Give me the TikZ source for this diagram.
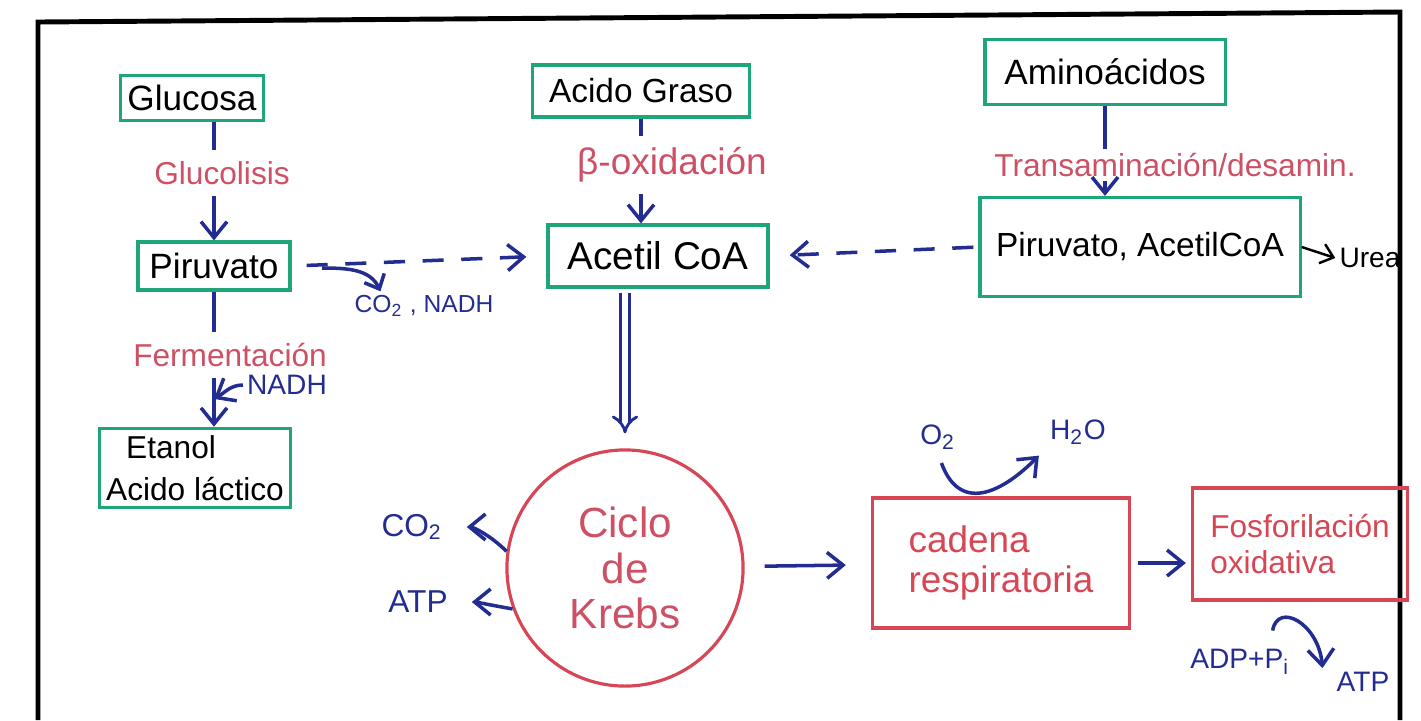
\documentclass[tikz,border=0pt]{standalone}
\usepackage{fontspec}
\setmainfont{Liberation Sans}
\usetikzlibrary{arrows.meta}
\definecolor{penGreen}{RGB}{30,165,120}
\definecolor{penRed}{RGB}{215,70,85}
\definecolor{penPink}{RGB}{205,80,100}
\definecolor{penBlue}{RGB}{35,45,145}

\begin{document}
\begin{tikzpicture}[x=0.01cm, y=-0.01cm,
    box/.style={draw=penGreen, line width=0.9pt, inner sep=2pt, font=\fontsize{10}{12}\selectfont},
    redbox/.style={draw=penRed, line width=0.9pt, text=penRed, align=left},
    proc/.style={text=penPink, inner sep=3pt, font=\fontsize{9}{11}\selectfont},
    chem/.style={text=penBlue, inner sep=1pt, font=\fontsize{8}{10}\selectfont},
    line/.style={draw=penBlue, line width=1pt},
    flow/.style={draw=penBlue, line width=1pt, -{Straight Barb[length=1.6mm,width=2.6mm]}},
    sketchdash/.style={dash pattern=on 6pt off 5pt}]
    \useasboundingbox (0,0) rectangle (1421,720);

    % Frame
    \draw[line width=1.4pt] (38,720) -- (38,22) -- (1400,12) -- (1400,720);

    % Glycolysis column
    \node[box, minimum width=1.35cm, minimum height=0.45cm] (gluc) at (192,98) {Glucosa};
    \node[proc] (glucolisis) at (222,173) {Glucolisis};
    \node[box, minimum width=1.52cm, minimum height=0.48cm] (piru) at (214,266) {Piruvato};
    \node[proc] (fermen) at (230,355) {Fermentación};
    \node[chem] (nadh) at (287,385) {NADH};
    \node[box, minimum width=1.84cm, minimum height=0.77cm, align=left,
          font=\fontsize{9}{12}\selectfont] (etanol) at (195,468) {\hspace{2mm}Etanol\\Acido láctico};
    \draw[line] (gluc.south -| piru) -- (glucolisis.north -| piru);
    \draw[flow] (glucolisis.south -| piru) -- (piru.north);
    \draw[line] (piru.south) -- (piru.south |- fermen.north);
    \draw[flow] (piru.south |- fermen.south) -- (piru.south |- etanol.north);
    \draw[flow] (nadh.west) to[out=180,in=30] (piru.south |- nadh.south);

    % Fatty acid column
    \node[box, minimum width=2.17cm, minimum height=0.52cm, font=\fontsize{9.5}{11}\selectfont] (graso) at (641,91) {Acido Graso};
    \node[proc, font=\fontsize{10.5}{12}\selectfont] (betaox) at (672,165) {β-oxidación};
    \node[box, minimum width=2.2cm, minimum height=0.62cm, font=\fontsize{11}{13}\selectfont] (acetil) at (658,256) {Acetil CoA};
    \draw[line] (graso.south) -- (graso.south |- betaox.north);
    \draw[flow] (graso.south |- betaox.south) -- (graso.south |- acetil.north);

    % Amino acid column
    \node[box, minimum width=2.4cm, minimum height=0.65cm] (amino) at (1105,72) {Aminoácidos};
    \node[proc, inner sep=1pt, font=\fontsize{9}{11}\selectfont] (transam) at (1175,165) {Transaminación/desamin.};
    \node[box, minimum width=3.2cm, minimum height=0.99cm, font=\fontsize{9.5}{11}\selectfont] (pirac) at (1140,247) {Piruvato, AcetilCoA};
    \node[inner sep=1pt, font=\fontsize{8}{10}\selectfont] (urea) at (1370,258) {Urea};
    \draw[line] (amino.south) -- (amino.south |- transam.north);
    \draw[flow] (amino.south |- transam.south) -- (amino.south |- pirac.north);
    \draw[line width=0.7pt, -{Straight Barb[length=1.2mm,width=2mm]}] (pirac.east) -- (urea.west);

    % Dashed links to Acetil CoA
    \node[chem, font=\fontsize{7}{9}\selectfont] (co2nadh) at (424,306) {CO\textsubscript{2} , NADH};
    \coordinate (br) at (322,268);
    \draw[flow, sketchdash, shorten <=0.15cm, shorten >=0.2cm] (piru.east) -- (acetil.west);
    \draw[draw=penBlue, line width=1pt, -{Straight Barb[length=1.2mm,width=2.2mm]}]
        (br) to[out=0,in=115] ([xshift=0.3cm]co2nadh.north west);
    \draw[flow, sketchdash, shorten <=0.05cm, shorten >=0.2cm] (pirac.west) -- (acetil.east);

    % Krebs cycle
    \node[circle, draw=penRed, line width=0.9pt, minimum size=2.36cm, text=penPink, align=center,
          font=\fontsize{12}{13}\selectfont] (krebs) at (625,568) {Ciclo\\de\\Krebs};
    \node[chem, font=\fontsize{9}{11}\selectfont] (co2) at (412,527) {CO\textsubscript{2}};
    \node[chem, font=\fontsize{9}{11}\selectfont] (atpk) at (418,602) {ATP};
    \draw[penBlue, line width=0.8pt, double distance=0.06cm, shorten <=0.04cm, shorten >=0.15cm, -{Implies}]
        (acetil.south -| krebs) -- (krebs.north);
    \draw[flow, shorten >=0.2cm] (krebs.172) to[out=135,in=0] (co2.east);
    \draw[flow, shorten >=0.2cm] (krebs.200) to[out=170,in=0] (atpk.east);

    % Respiratory chain
    \node[redbox, minimum width=2.57cm, minimum height=1.3cm, font=\fontsize{10.5}{11.5}\selectfont] (cadena) at (1001,563) {cadena\\respiratoria};
    \node[redbox, minimum width=2.15cm, minimum height=1.12cm, font=\fontsize{9}{10.5}\selectfont] (fosfo) at (1300,544) {Fosforilación\\oxidativa};
    \node[chem] (o2) at (938,437) {O\textsubscript{2}};
    \node[chem] (h2o) at (1078,432) {H\textsubscript{2}O};
    \node[chem] (adp) at (1240,662) {ADP+P\textsubscript{i}};
    \node[chem] (atpf) at (1363,682) {ATP};
    \draw[flow, shorten <=0.2cm, shorten >=0.25cm] (krebs) -- (cadena);
    \draw[flow, shorten <=0.07cm, shorten >=0.05cm] (cadena.east) -- (cadena.east -| fosfo.west);
    \draw[flow, shorten <=0.1cm, shorten >=0.1cm] (o2.south) to[out=-70,in=-135,looseness=1.5] (h2o.south west);
    \draw[flow, shorten <=0.15cm] ([xshift=0.3cm]adp.north) to[out=80,in=95,looseness=2] ([xshift=-0.1cm]atpf.north west);
\end{tikzpicture}
\end{document}
